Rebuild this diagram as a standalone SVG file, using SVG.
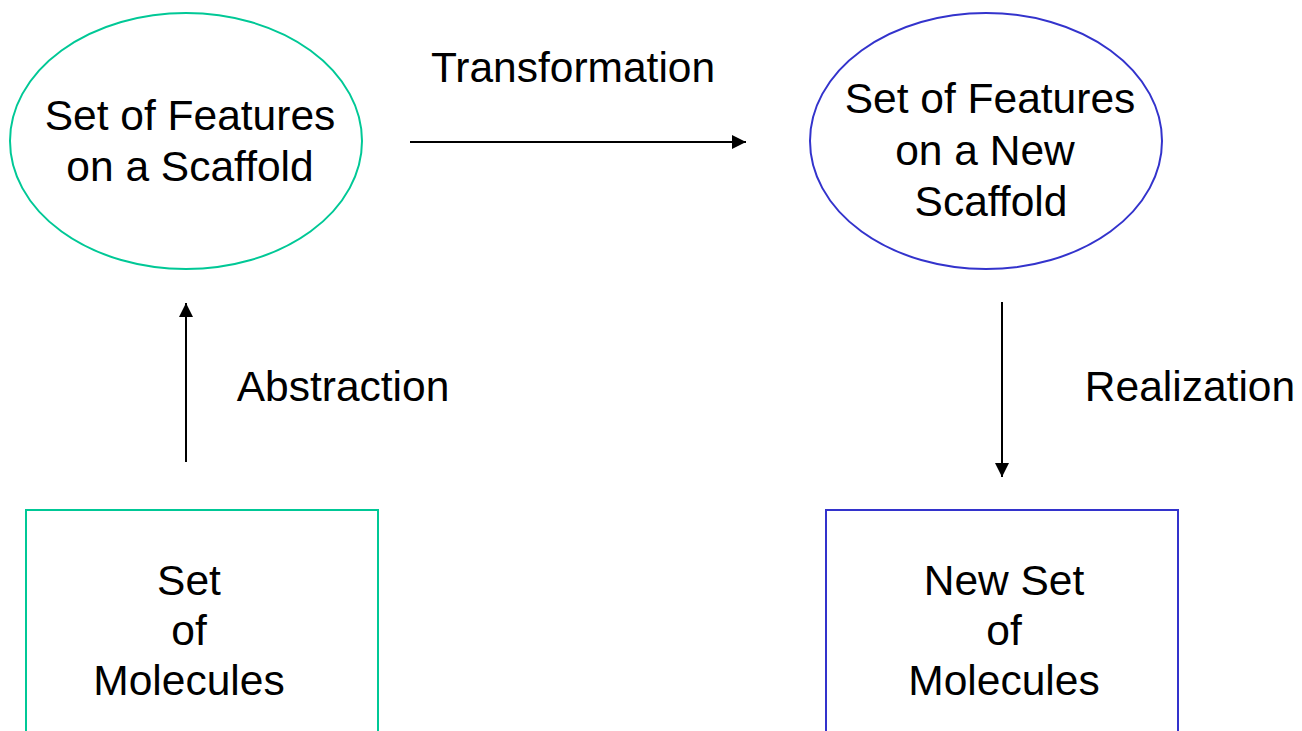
<svg xmlns="http://www.w3.org/2000/svg" width="1302" height="731" viewBox="0 0 1302 731">
<style>
text{font-family:"Liberation Sans",Arial,sans-serif;font-size:42.5px;fill:#000;text-anchor:middle}
.teal{fill:none;stroke:#00C896;stroke-width:2}
.blue{fill:none;stroke:#3333CC;stroke-width:2}
.conn{stroke:#000;stroke-width:2;fill:none;marker-end:url(#ah)}
</style>
<defs>
<marker id="ah" viewBox="0 0 10 10" refX="10" refY="5" markerWidth="7" markerHeight="7" markerUnits="strokeWidth" orient="auto">
<path d="M0,0 L10,5 L0,10 z" fill="#000"/>
</marker>
</defs>
<rect width="1302" height="731" fill="#fff"/>
<g id="features">
<ellipse class="teal" cx="186" cy="141" rx="176" ry="128"/>
<text x="190" y="130">Set of Features</text>
<text x="190" y="181">on a Scaffold</text>
</g>
<g id="new-features">
<ellipse class="blue" cx="986" cy="141" rx="176" ry="128"/>
<text x="990" y="113">Set of Features</text>
<text x="985" y="165">on a New</text>
<text x="991" y="216">Scaffold</text>
</g>
<g id="molecules">
<rect class="teal" x="26" y="510" width="352" height="240"/>
<text x="189" y="595">Set</text>
<text x="189" y="645">of</text>
<text x="189" y="695">Molecules</text>
</g>
<g id="new-molecules">
<rect class="blue" x="826" y="510" width="352" height="240"/>
<text x="1004" y="595">New Set</text>
<text x="1004" y="645">of</text>
<text x="1004" y="695">Molecules</text>
</g>
<g id="connectors">
<line class="conn" x1="410" y1="142" x2="746" y2="142"/>
<line class="conn" x1="186" y1="462" x2="186" y2="303"/>
<line class="conn" x1="1002" y1="302" x2="1002" y2="477"/>
<text x="573" y="82">Transformation</text>
<text x="343" y="401">Abstraction</text>
<text x="1190" y="401">Realization</text>
</g>
</svg>
